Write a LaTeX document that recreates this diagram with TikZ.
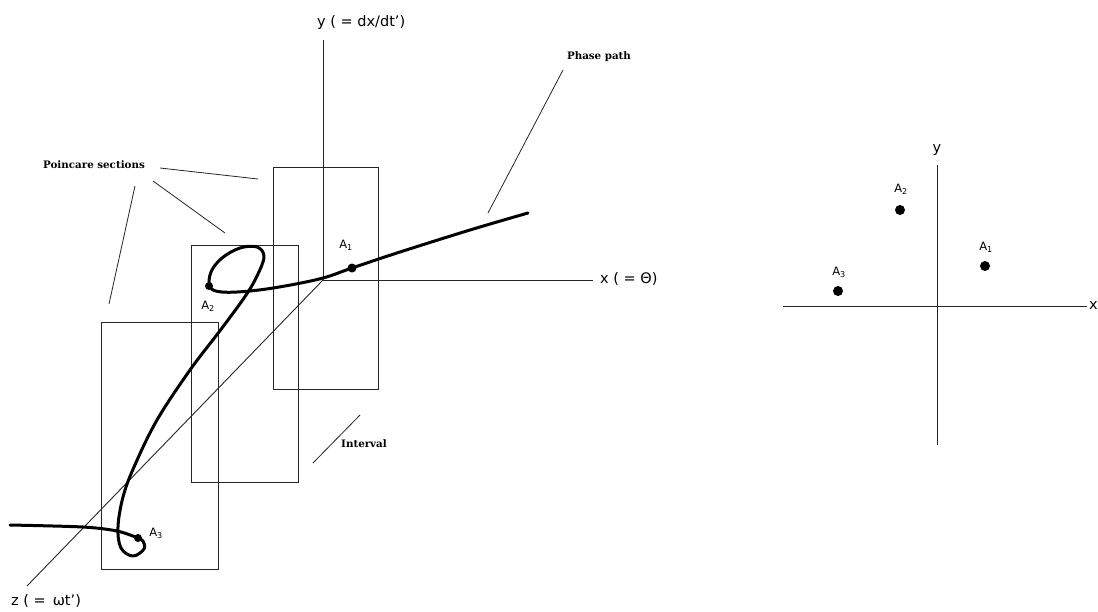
\documentclass[tikz,border=0pt]{standalone}
\usepackage{fontspec}
\setmainfont{DejaVu Sans}
\newfontfamily\notefont{DejaVu Serif}
\begin{document}
\begin{tikzpicture}[x=1pt,y=-1pt,
  thin line/.style={line width=0.8pt, black!85},
  axis/.style={line width=0.9pt, black!85},
  path line/.style={line width=3pt, black, line cap=round, line join=round},
  section/.style={draw=black!85, line width=0.8pt},
  dot/.style={circle, fill=black, inner sep=0pt, minimum size=#1},
  axlabel/.style={font=\fontsize{14.5}{16}\selectfont, inner sep=0pt},
  note/.style={font=\notefont\fontsize{10.3}{12}\selectfont\bfseries, inner sep=0pt},
  alabel/.style={font=\fontsize{11.5}{12}\selectfont, inner sep=0pt}]
\useasboundingbox (0,0) rectangle (1098,611);
\fill[white] (0,0) rectangle (1098,611);

% axes (left, 3D)
\coordinate (O) at (323,280);
\coordinate (ytop) at (323,40);
\coordinate (xend) at (593,280);
\coordinate (zend) at (27,586);
\draw[axis] (O) -- (ytop);
\draw[axis] (O) -- (xend);
\draw[axis] (O) -- (zend);
\node[axlabel, anchor=west] (ylab) at (317,22) {y ( = dx/dt')};
\node[axlabel, anchor=west] (xlab) at (600,279) {x ( = \symbol{"0398})};
\node[axlabel, anchor=west] (zlab) at (11,601) {z ( =\, \symbol{"03C9}t')};

% Poincare sections (rectangles)
\node[section, minimum width=105pt, minimum height=222pt, anchor=north west] (s1) at (273,167) {};
\node[section, minimum width=107pt, minimum height=237pt, anchor=north west] (s2) at (191,245) {};
\node[section, minimum width=117pt, minimum height=247pt, anchor=north west] (s3) at (101,322) {};

% phase path
\draw[path line] plot[smooth, tension=0.6] coordinates {
 (528,213) (470,230) (400,252) (352,268) (323,278) (285,286) (250,291) (222,292) (210,287)
 (211,272) (222,258) (240,248) (257,247) (264,257) (256,278) (244,298) (219,332)
 (190,370) (157,420) (134,467) (123,497) (118,527) (121,548)
 (133,556) (144,549) (143,541) (138,538)};
\draw[path line] plot[smooth, tension=0.5] coordinates {(138,538) (117,531) (83,527) (10,525)};

\node[dot=9pt] (A1) at (352,268) {};
\node[dot=8pt] (A2) at (209,286) {};
\node[dot=8pt] (A3) at (138,538) {};
\node[alabel] (A1l) at (346,245) {A\textsubscript{1}};
\node[alabel] (A2l) at (208,306) {A\textsubscript{2}};
\node[alabel] (A3l) at (156,533) {A\textsubscript{3}};

% notes
\node[note] (poin) at (94,165) {Poincare sections};
\coordinate (p1a) at (160,168); \coordinate (p1b) at (258,179);
\coordinate (p2a) at (153,181); \coordinate (p2b) at (225,233);
\coordinate (p3a) at (135,186); \coordinate (p3b) at (109,304);
\draw[thin line] (p1a) -- (p1b);
\draw[thin line] (p2a) -- (p2b);
\draw[thin line] (p3a) -- (p3b);

\node[note] (phase) at (599,57) {Phase path};
\coordinate (ph1) at (563,70); \coordinate (ph2) at (488,213);
\draw[thin line] (ph1) -- (ph2);

\node[note, anchor=west] (interval) at (341,444) {Interval};
\coordinate (in1) at (360,415); \coordinate (in2) at (313,463);
\draw[thin line] (in1) -- (in2);

% right panel
\coordinate (O2) at (937,306);
\coordinate (ry1) at (937,165); \coordinate (ry2) at (937,445);
\coordinate (rx1) at (783,306); \coordinate (rx2) at (1087,306);
\draw[axis] (ry1) -- (ry2);
\draw[axis] (rx1) -- (rx2);
\node[axlabel] (ry) at (937,150) {y};
\node[axlabel, anchor=west] (rx) at (1089,306) {x};
\node[dot=10pt] (B1) at (985,266) {};
\node[dot=10pt] (B2) at (900,210) {};
\node[dot=10pt] (B3) at (838,291) {};
\node[alabel] (B1l) at (986,247) {A\textsubscript{1}};
\node[alabel] (B2l) at (901,189) {A\textsubscript{2}};
\node[alabel] (B3l) at (839,272) {A\textsubscript{3}};
\end{tikzpicture}
\end{document}
